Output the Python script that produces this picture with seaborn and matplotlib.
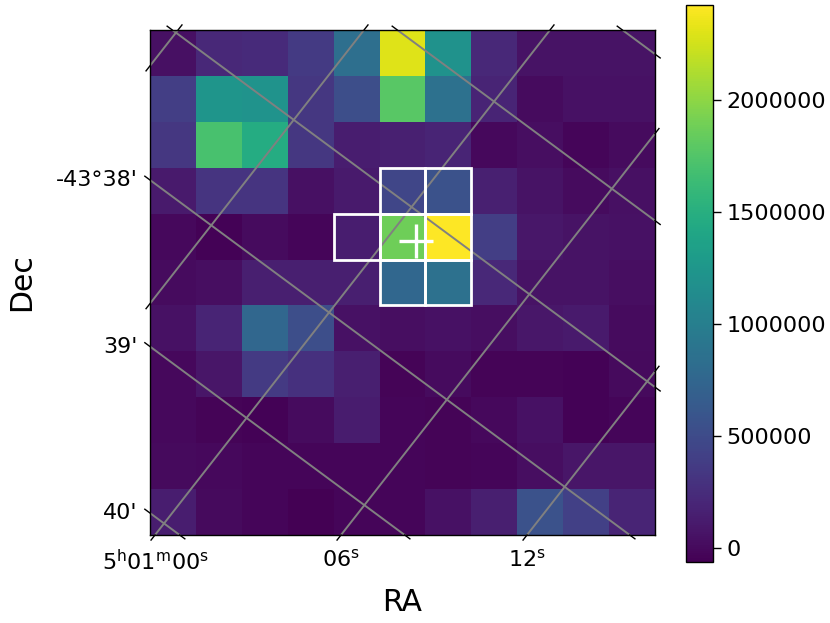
import numpy as np
import pandas as pd
import matplotlib
matplotlib.use("Agg")
import matplotlib.pyplot as plt
from matplotlib.patches import Rectangle
import seaborn as sns

# ---- data (rows listed top to bottom, columns left to right) ----
flux = np.array([
    [40000, 210000, 235000, 360000, 833000, 2302000, 1207000, 210000, 62000, 55000, 55000],
    [385000, 1232000, 1220000, 335000, 522000, 1779000, 858000, 186000, 12000, 50000, 50000],
    [335000, 1704000, 1468000, 335000, 137000, 160000, 186000, -12000, 25000, -30000, 12000],
    [112000, 311000, 311000, 37000, 112000, 460000, 560000, 160000, 62000, 12000, 37000],
    [-12000, -45000, 12000, -25000, 137000, 1878000, 2426000, 385000, 87000, 62000, 50000],
    [12000, 25000, 150000, 150000, 150000, 759000, 858000, 210000, 62000, 62000, 25000],
    [50000, 186000, 759000, 522000, 50000, 25000, 50000, 25000, 87000, 112000, 12000],
    [-12000, 75000, 360000, 286000, 150000, -37000, 12000, -37000, -37000, -50000, 0],
    [-12000, -37000, -50000, 12000, 125000, -25000, -37000, -12000, 50000, -50000, -25000],
    [0, -12000, -25000, -25000, -25000, -25000, -37000, -25000, 25000, 75000, 75000],
    [137000, 0, -25000, -55000, -25000, -25000, 50000, 150000, 560000, 410000, 186000],
])
vmin, vmax = -62500, 2426000
cbar_ticks = [0, 500000, 1000000, 1500000, 2000000]

aperture_rows = [3, 3, 4, 4, 4, 5, 5]
aperture_cols = [5, 6, 4, 5, 6, 5, 6]
target_x, target_y = 5.79, 4.60   # heatmap cell coordinates

# linear sky coordinates: RA in seconds past 5h01m, Dec in arcmin past -43deg
ref_pix = (0.5, 10.5)
ref_ra, ref_dec = 0.0, 39.892
d_ra = (1.4809, 1.1584)      # dRA/dX, dRA/dY (per cell)
d_dec = (-0.2040, 0.2757)    # dDec/dX, dDec/dY
ra_grid = [-24, -18, -12, -6, 0, 6, 12, 18, 24, 30]
dec_grid = [33, 34, 35, 36, 37, 38, 39, 40, 41, 42]
ra_labels = {0: r"$5^\mathrm{h}01^\mathrm{m}00^\mathrm{s}$",
             6: r"$06^\mathrm{s}$", 12: r"$12^\mathrm{s}$"}
dec_labels = {38: "-43°38'", 39: "39'", 40: "40'"}

# ---- figure ----
fig = plt.figure(figsize=(8.3, 6.23), dpi=100)
W, H = 830, 623
ax = fig.add_axes([150 / W, 1 - 535 / H, 505 / W, 505 / H])
cax = fig.add_axes([686 / W, 1 - 562 / H, 27 / W, 557 / H])

df = pd.DataFrame(flux)
sns.heatmap(df, ax=ax, cbar_ax=cax, cmap="viridis", vmin=vmin, vmax=vmax,
            cbar_kws={"ticks": cbar_ticks, "format": "%d"})
n = flux.shape[0]
ax.set_xlim(0, n)
ax.set_ylim(n, 0)
for s in ax.spines.values():
    s.set_visible(True)
    s.set_color("black")
    s.set_linewidth(1.0)

cb = ax.collections[0].colorbar
cb.outline.set_visible(True)
cb.outline.set_linewidth(1.0)
cb.outline.set_edgecolor("black")
cax.tick_params(labelsize=16, length=6, width=1)


def solve_x(val, Y, ref_val, d):
    return ref_pix[0] + (val - ref_val - d[1] * (Y - ref_pix[1])) / d[0]


def solve_y(val, X, ref_val, d):
    return ref_pix[1] + (val - ref_val - d[0] * (X - ref_pix[0])) / d[1]


# grid lines
ts = np.linspace(-2, n + 2, 50)
for v in ra_grid:
    ax.plot(ts, [solve_y(v, t, ref_ra, d_ra) for t in ts], color="0.5", lw=1.4)
for v in dec_grid:
    ax.plot(ts, [solve_y(v, t, ref_dec, d_dec) for t in ts], color="0.5", lw=1.4)

# ticks at edge crossings (along the grid line, pointing out)
tl = 0.14
bottom_ticks, left_ticks = {}, {}
for vals, ref_val, d, kind in [(ra_grid, ref_ra, d_ra, "ra"), (dec_grid, ref_dec, d_dec, "dec")]:
    dirv = np.array([d[1], -d[0]])
    dirv = dirv / np.hypot(*dirv)
    for v in vals:
        for Yc, sgn in [(0, -1), (n, 1)]:
            X = solve_x(v, Yc, ref_val, d)
            if 0 <= X <= n:
                dv = dirv if dirv[1] * sgn > 0 else -dirv
                ax.plot([X, X + tl * dv[0]], [Yc, Yc + tl * dv[1]], color="black",
                        lw=1.0, clip_on=False)
                if Yc == n and kind == "ra" and v in ra_labels:
                    bottom_ticks[X] = ra_labels[v]
        for Xc, sgn in [(0, -1), (n, 1)]:
            Y = solve_y(v, Xc, ref_val, d)
            if 0 <= Y <= n:
                dv = dirv if dirv[0] * sgn > 0 else -dirv
                ax.plot([Xc, Xc + tl * dv[0]], [Y, Y + tl * dv[1]], color="black",
                        lw=1.0, clip_on=False)
                if Xc == 0 and kind == "dec" and v in dec_labels:
                    left_ticks[Y] = dec_labels[v]

bx = sorted(bottom_ticks)
ax.set_xticks(bx)
ax.set_xticklabels([bottom_ticks[k] for k in bx], rotation=0)
ly = sorted(left_ticks)
ax.set_yticks(ly)
ax.set_yticklabels([left_ticks[k] for k in ly], rotation=0)
ax.tick_params(axis="x", length=0, pad=10, labelsize=16)
ax.tick_params(axis="y", length=0, pad=9, labelsize=16)

# aperture pixels
for r, c in zip(aperture_rows, aperture_cols):
    ax.add_patch(Rectangle((c, r), 1, 1, fill=False, edgecolor="white", lw=2, zorder=3))

ax.plot([target_x], [target_y], marker="+", ms=24, mew=2.4, color="white", zorder=4)

ax.set_xlabel("RA", fontsize=21.5)
ax.set_ylabel("Dec", fontsize=21.5)
ax.xaxis.set_label_coords(0.5, -0.105)
ax.yaxis.set_label_coords(-0.225, 0.5)

fig.savefig("out.png", dpi=100)
